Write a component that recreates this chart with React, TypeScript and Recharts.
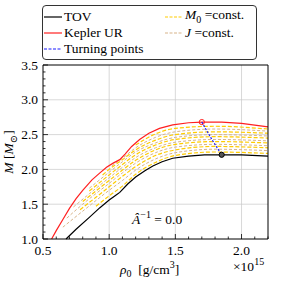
import React from "react";
import { ComposedChart, Line, Scatter, XAxis, YAxis, CartesianGrid } from "recharts";

// TOV sequence (non-rotating)
const tovRho = [0.674, 0.75, 0.85, 0.93, 1.0, 1.05, 1.08, 1.14, 1.2, 1.27, 1.33, 1.4, 1.48, 1.6, 1.72, 1.85, 2.0, 2.2];
const tovM = [1.0, 1.14, 1.31, 1.45, 1.56, 1.63, 1.67, 1.79, 1.89, 1.98, 2.05, 2.11, 2.16, 2.19, 2.21, 2.21, 2.21, 2.19];

// Kepler (mass-shedding) sequence
const kepRho = [0.565, 0.6, 0.65, 0.7, 0.75, 0.8, 0.87, 0.93, 0.98, 1.03, 1.08, 1.12, 1.17, 1.23, 1.3, 1.38, 1.48, 1.6, 1.7, 1.85, 2.0, 2.2];
const kepM = [1.0, 1.12, 1.28, 1.44, 1.58, 1.7, 1.85, 1.95, 2.03, 2.09, 2.14, 2.22, 2.33, 2.43, 2.52, 2.59, 2.64, 2.67, 2.68, 2.68, 2.66, 2.61];

// turning points
const turnRho = [1.7, 1.77, 1.85];
const turnM = [2.68, 2.45, 2.21];

// J = const sequences
const j1Rho = [0.65, 0.8, 1.0, 1.1, 1.2, 1.35, 1.5, 1.8, 2.2];
const j1M = [1.17, 1.4, 1.7, 1.84, 1.99, 2.15, 2.24, 2.29, 2.27];
const j2Rho = [0.68, 0.8, 1.0, 1.1, 1.2, 1.35, 1.5, 1.8, 2.2];
const j2M = [1.3, 1.5, 1.8, 1.95, 2.09, 2.24, 2.32, 2.36, 2.34];
const j3Rho = [0.73, 0.85, 1.0, 1.1, 1.2, 1.35, 1.5, 1.8, 2.2];
const j3M = [1.46, 1.65, 1.88, 2.03, 2.17, 2.31, 2.39, 2.43, 2.41];
const j4Rho = [0.85, 1.0, 1.1, 1.2, 1.35, 1.5, 1.8, 2.2];
const j4M = [1.73, 1.96, 2.11, 2.25, 2.38, 2.46, 2.5, 2.48];
const j5Rho = [1.02, 1.1, 1.2, 1.35, 1.5, 1.8, 2.2];
const j5M = [2.05, 2.16, 2.31, 2.46, 2.54, 2.58, 2.55];

// M0 = const sequences
const m0Rho = [0.9, 1.0, 1.1, 1.2, 1.35, 1.5, 1.8, 2.2];
const m0M = [1.47, 1.62, 1.76, 1.93, 2.1, 2.2, 2.25, 2.23];
const m1Rho = [0.78, 0.9, 1.0, 1.1, 1.2, 1.35, 1.5, 1.8, 2.2];
const m1M = [1.42, 1.6, 1.75, 1.9, 2.04, 2.2, 2.28, 2.33, 2.31];
const m2Rho = [0.8, 0.9, 1.0, 1.1, 1.2, 1.35, 1.5, 1.8, 2.2];
const m2M = [1.54, 1.69, 1.84, 1.99, 2.13, 2.28, 2.36, 2.4, 2.38];
const m3Rho = [0.85, 1.0, 1.1, 1.2, 1.35, 1.5, 1.8, 2.2];
const m3M = [1.69, 1.92, 2.07, 2.21, 2.35, 2.43, 2.47, 2.45];
const m4Rho = [0.95, 1.0, 1.1, 1.2, 1.35, 1.5, 1.8, 2.2];
const m4M = [1.92, 2.0, 2.14, 2.28, 2.42, 2.5, 2.54, 2.52];
const m5Rho = [1.2, 1.35, 1.5, 1.8, 2.2];
const m5M = [2.35, 2.51, 2.59, 2.62, 2.58];

const xDomain = [0.5, 2.2];
const yDomain = [1.0, 3.5];
const xMajor = [1.0, 1.5, 2.0];
const xAll = [0.5, 0.6, 0.7, 0.8, 0.9, 1.0, 1.1, 1.2, 1.3, 1.4, 1.5, 1.6, 1.7, 1.8, 1.9, 2.0, 2.1, 2.2];
const yMajor = [1.5, 2.0, 2.5, 3.0];
const yAll = [1.0, 1.1, 1.2, 1.3, 1.4, 1.5, 1.6, 1.7, 1.8, 1.9, 2.0, 2.1, 2.2, 2.3, 2.4, 2.5, 2.6, 2.7, 2.8, 2.9, 3.0, 3.1, 3.2, 3.3, 3.4, 3.5];

const pts = (xs: number[], ys: number[]) => xs.map((x, i) => ({ rho: x, M: ys[i] }));

const jLines = [pts(j1Rho, j1M), pts(j2Rho, j2M), pts(j3Rho, j3M), pts(j4Rho, j4M), pts(j5Rho, j5M)];
const m0Lines = [pts(m0Rho, m0M), pts(m1Rho, m1M), pts(m2Rho, m2M), pts(m3Rho, m3M), pts(m4Rho, m4M), pts(m5Rho, m5M)];

const FONT = "'Times New Roman', 'Liberation Serif', Tinos, 'DejaVu Serif', serif";
const isMajor = (v: number) => Math.abs(v * 2 - Math.round(v * 2)) < 1e-6;

// grid positions from the axis scale if available, else from the plot offset
const gridX = ({ xAxis, offset }: any) =>
  xMajor.map((v) =>
    xAxis && typeof xAxis.scale === "function"
      ? xAxis.scale(v)
      : offset.left + ((v - xDomain[0]) / (xDomain[1] - xDomain[0])) * offset.width
  );
const gridY = ({ yAxis, offset }: any) =>
  yMajor.map((v) =>
    yAxis && typeof yAxis.scale === "function"
      ? yAxis.scale(v)
      : offset.top + ((yDomain[1] - v) / (yDomain[1] - yDomain[0])) * offset.height
  );

const BottomTick = (p: any) => {
  const v = p.payload.value;
  const len = isMajor(v) ? 5 : 2.5;
  return (
    <g>
      <line x1={p.x} x2={p.x} y1={p.y} y2={p.y - len} stroke="#000" strokeWidth={0.8} />
      {isMajor(v) && (
        <text x={p.x} y={p.y + 16} textAnchor="middle" fontSize={13.5} style={{ fontFamily: FONT }} fill="#000">
          {v.toFixed(1)}
        </text>
      )}
    </g>
  );
};

const TopTick = (p: any) => {
  const len = isMajor(p.payload.value) ? 5 : 2.5;
  return <line x1={p.x} x2={p.x} y1={p.y} y2={p.y + len} stroke="#000" strokeWidth={0.8} />;
};

const LeftTick = (p: any) => {
  const v = p.payload.value;
  const len = isMajor(v) ? 5 : 2.5;
  return (
    <g>
      <line x1={p.x} x2={p.x + len} y1={p.y} y2={p.y} stroke="#000" strokeWidth={0.8} />
      {isMajor(v) && (
        <text x={p.x - 5} y={p.y + 4.5} textAnchor="end" fontSize={13.5} style={{ fontFamily: FONT }} fill="#000">
          {v.toFixed(1)}
        </text>
      )}
    </g>
  );
};

const RightTick = (p: any) => {
  const len = isMajor(p.payload.value) ? 5 : 2.5;
  return <line x1={p.x} x2={p.x - len} y1={p.y} y2={p.y} stroke="#000" strokeWidth={0.8} />;
};

const LegendRow = ({ color, dashed, children }: any) => (
  <div style={{ display: "flex", alignItems: "center", height: 16 }}>
    <svg width={18} height={6} style={{ marginRight: 2 }}>
      <line x1={0} x2={18} y1={3} y2={3} stroke={color} strokeWidth={1.2} strokeDasharray={dashed ? "3 1.5" : undefined} />
    </svg>
    <span>{children}</span>
  </div>
);

const axisProps = {
  type: "number" as const,
  interval: 0,
  tickSize: 0,
  tickMargin: 0,
  tickLine: false,
  axisLine: { stroke: "#000", strokeWidth: 1 },
};

export default function App() {
  return (
    <div style={{ position: "absolute", left: 0, top: 0, width: 283, height: 283, background: "#fff", fontFamily: FONT }}>
      <ComposedChart width={283} height={283} margin={{ top: 64, right: 14, bottom: 43, left: 42 }}>
        <CartesianGrid
          stroke="#c8c8c8"
          strokeWidth={0.7}
          verticalCoordinatesGenerator={gridX}
          horizontalCoordinatesGenerator={gridY}
        />
        <XAxis {...axisProps} dataKey="rho" domain={xDomain} ticks={xAll} height={1} tick={<BottomTick />} />
        <XAxis {...axisProps} xAxisId="xt" orientation="top" dataKey="rho" domain={xDomain} ticks={xAll} height={1} tick={<TopTick />} />
        <YAxis {...axisProps} domain={yDomain} ticks={yAll} width={1} tick={<LeftTick />} />
        <YAxis {...axisProps} yAxisId="yr" orientation="right" domain={yDomain} ticks={yAll} width={1} tick={<RightTick />} />
        {jLines.map((d, i) => (
          <Line
            key={"j" + i}
            data={d}
            dataKey="M"
            type="monotone"
            stroke="#d8b48a"
            strokeWidth={1}
            strokeDasharray="3 2"
            dot={false}
            isAnimationActive={false}
          />
        ))}
        {m0Lines.map((d, i) => (
          <Line
            key={"m" + i}
            data={d}
            dataKey="M"
            type="monotone"
            stroke="#ffcc00"
            strokeWidth={1.2}
            strokeDasharray="4 2"
            dot={false}
            isAnimationActive={false}
          />
        ))}
        <Line data={pts(tovRho, tovM)} dataKey="M" type="linear" stroke="#000" strokeWidth={1.2} dot={false} isAnimationActive={false} />
        <Line data={pts(kepRho, kepM)} dataKey="M" type="linear" stroke="#ff2020" strokeWidth={1.2} dot={false} isAnimationActive={false} />
        <Line
          data={pts(turnRho, turnM)}
          dataKey="M"
          type="monotone"
          stroke="#1a1aff"
          strokeWidth={1.2}
          strokeDasharray="2 1.5"
          dot={false}
          isAnimationActive={false}
        />
        <Scatter
          data={pts(turnRho.slice(0, 1), turnM.slice(0, 1))}
          dataKey="M"
          isAnimationActive={false}
          shape={(p: any) => <circle cx={p.cx} cy={p.cy} r={2.6} fill="none" stroke="#ff2020" strokeWidth={1} />}
        />
        <Scatter
          data={pts(turnRho.slice(2), turnM.slice(2))}
          dataKey="M"
          isAnimationActive={false}
          shape={(p: any) => <circle cx={p.cx} cy={p.cy} r={2.6} fill="#555" stroke="#000" strokeWidth={1} />}
        />
      </ComposedChart>

      {/* legend */}
      <div
        style={{
          position: "absolute",
          left: 42,
          top: 5,
          width: 215,
          height: 55,
          border: "1px solid #333",
          borderRadius: 4,
          boxSizing: "border-box",
          background: "#fff",
          fontSize: 13.5,
          lineHeight: "16px",
        }}
      >
        <div style={{ position: "absolute", left: 1, top: 3 }}>
          <LegendRow color="#000">TOV</LegendRow>
          <LegendRow color="#ff2020">Kepler UR</LegendRow>
          <LegendRow color="#1a1aff" dashed>Turning points</LegendRow>
        </div>
        <div style={{ position: "absolute", left: 122, top: 3 }}>
          <LegendRow color="#ffcc00" dashed>
            <i>M</i>
            <sub style={{ fontSize: 10 }}>0</sub> =const.
          </LegendRow>
          <LegendRow color="#d8b48a" dashed>
            <i>J</i> =const.
          </LegendRow>
        </div>
      </div>

      {/* annotation */}
      <div style={{ position: "absolute", left: 132, top: 209, fontSize: 13.5, whiteSpace: "nowrap" }}>
        <i>Â</i>
        <sup style={{ fontSize: 10 }}>−1</sup> = 0.0
      </div>

      {/* x label */}
      <div style={{ position: "absolute", left: 120, top: 259, fontSize: 13.5, whiteSpace: "nowrap" }}>
        <i>ρ</i>
        <sub style={{ fontSize: 10 }}>0</sub>&nbsp; [g/cm<sup style={{ fontSize: 10 }}>3</sup>]
      </div>
      <div style={{ position: "absolute", left: 233, top: 256, fontSize: 13.5, whiteSpace: "nowrap" }}>
        ×10<sup style={{ fontSize: 10 }}>15</sup>
      </div>

      {/* y label */}
      <div
        style={{
          position: "absolute",
          left: 10,
          top: 152,
          fontSize: 13.5,
          whiteSpace: "nowrap",
          transform: "translate(-50%, -50%) rotate(-90deg)",
        }}
      >
        <i>M</i> [<i>M</i>
        <sub style={{ fontSize: 10 }}>⊙</sub>]
      </div>
    </div>
  );
}
